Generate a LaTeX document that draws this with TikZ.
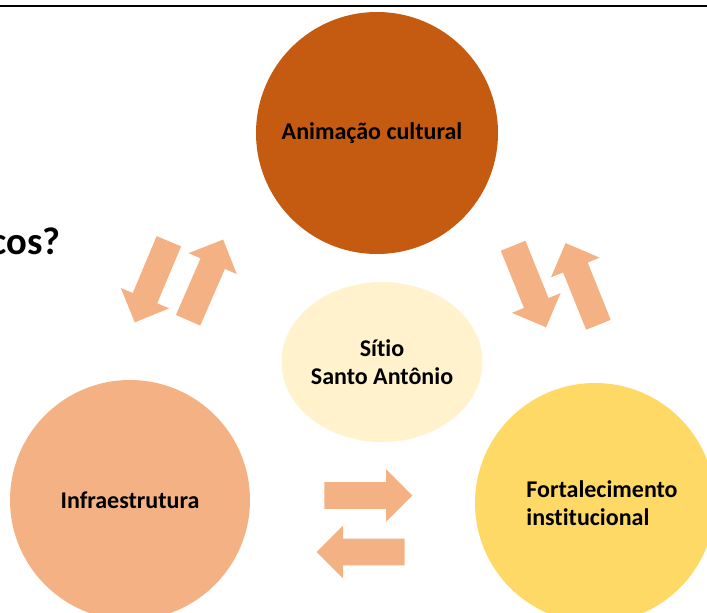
\documentclass[tikz,border=0pt]{standalone}
\usepackage{fontspec}
\setmainfont{Carlito}[Ligatures=NoCommon]
\usetikzlibrary{shapes.geometric,shapes.arrows}
\definecolor{laranja}{HTML}{C55A11}
\definecolor{pessego}{HTML}{F4B183}
\definecolor{amarelo}{HTML}{FFD966}
\definecolor{creme}{HTML}{FFF2CC}

\begin{document}
\begin{tikzpicture}[
  x=0.75pt, y=-0.75pt,
  every node/.style = {font=\fontsize{18}{21.5}\selectfont\bfseries, inner sep=0pt},
  bloco/.style = {circle, minimum size=#1, align=center},
  seta/.style = {single arrow, fill=pessego, minimum height=66pt, inner xsep=0pt, inner ysep=9.75pt,
    single arrow head extend=9.75pt, single arrow head indent=0pt, anchor=tail, rotate=#1}
]
  \useasboundingbox (0,0) rectangle (707,613);
  \clip (0,0) rectangle (707,613);
  \draw[line width=2pt] (0,6) -- (707,6);
  \node[anchor=base east, font=\fontsize{29}{32}\selectfont\bfseries] (titulo) at (61,254) {cos?};

  \node[bloco=181.5pt, fill=laranja,
    label={[xshift=-3.75pt]center:Animação cultural}] (animacao) at (377,133) {};
  \node[ellipse, fill=creme, minimum width=138pt, minimum height=120pt, align=center] (sitio) at (382,362) {Sítio\\Santo Antônio};
  \node[bloco=180pt, fill=pessego] (infra) at (130,500) {Infraestrutura};
  \node[bloco=180pt, fill=amarelo,
    label={[xshift=5.25pt, align=left]center:Fortalecimento\\institucional}] (fortal) at (595,503) {};

  \node[seta=-112.8] (s1) at (169,241) {};
  \node[seta=66.5] (s2) at (188,320.5) {};
  \node[seta=-68] (s3) at (513,245.5) {};
  \node[seta=111.9] (s4) at (598.5,325) {};
  \node[seta=0] (s5) at (324,495.5) {};
  \node[seta=180] (s6) at (405,552) {};
\end{tikzpicture}
\end{document}
